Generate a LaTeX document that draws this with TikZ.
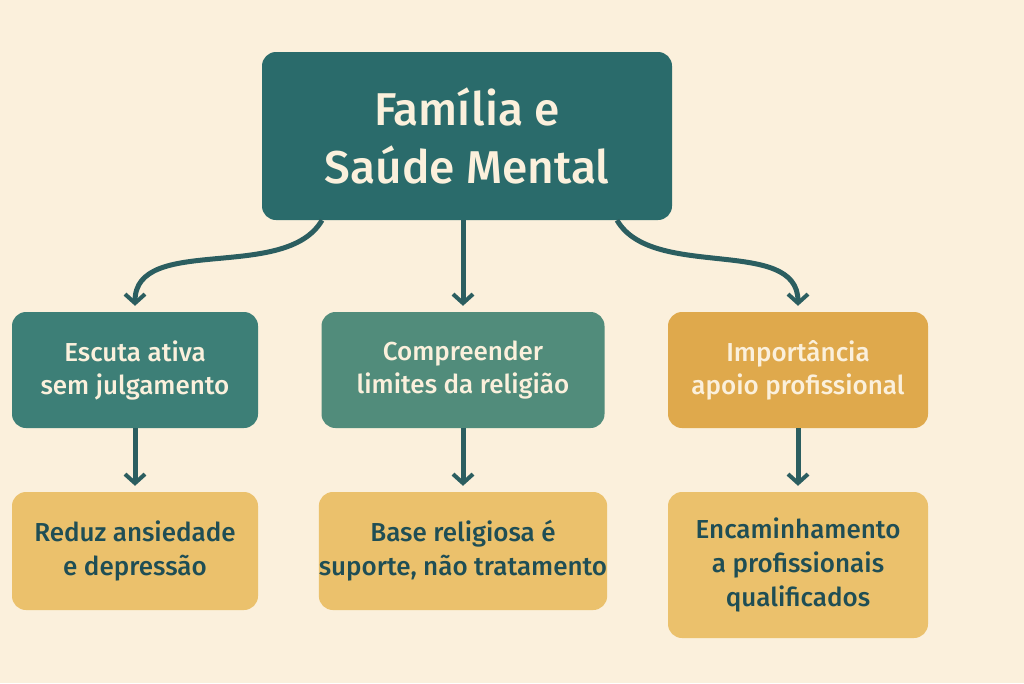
\documentclass[tikz,border=0pt]{standalone}
\usepackage{fontspec}
\setmainfont{Fira Sans}[UprightFont=* Medium, BoldFont=* SemiBold]
\usetikzlibrary{arrows.meta}
\definecolor{bg}{HTML}{FBF0DC}
\definecolor{dteal}{HTML}{2A6B6B}
\definecolor{teal2}{HTML}{3D7F77}
\definecolor{teal3}{HTML}{518C7B}
\definecolor{orng}{HTML}{DFA94C}
\definecolor{yel}{HTML}{EBC16C}
\definecolor{ink}{HTML}{1F4E55}
\definecolor{arr}{HTML}{2B5E60}
\tikzset{
 box/.style={rounded corners=14pt, align=center, inner sep=0pt},
 lvtwo/.style={box, text=bg, font=\fontsize{26}{33}\selectfont},
 lvthree/.style={box, fill=yel, text=ink, font=\fontsize{26}{34}\selectfont},
 conn/.style={draw=arr, line width=5pt, -{Straight Barb[length=9pt,width=20pt,line width=4pt]}}
}
\begin{document}
\begin{tikzpicture}[x=1pt,y=-1pt]
\fill[bg] (0,0) rectangle (1024,683);
\useasboundingbox (0,0) rectangle (1024,683);
\node[box, fill=dteal, text=bg, font=\fontsize{46}{58}\selectfont, minimum width=410pt, minimum height=168pt] (top) at (467,136) {Família e\\Saúde Mental};
\node[lvtwo, fill=teal2, minimum width=246pt, minimum height=116pt] (a) at (135,370) {Escuta ativa\\sem julgamento};
\node[lvtwo, fill=teal3, minimum width=283pt, minimum height=116pt] (b) at (463,370) {Compreender\\limites da religião};
\node[lvtwo, fill=orng, minimum width=260pt, minimum height=116pt] (c) at (798,370) {Importância\\apoio profissional};
\node[lvthree, minimum width=246pt, minimum height=118pt] (d) at (135,551) {Reduz ansiedade\\e depressão};
\node[lvthree, minimum width=283pt, minimum height=118pt] (e) at (463,551) {Base religiosa é\\suporte, não tratamento};
\node[lvthree, minimum width=260pt, minimum height=146pt] (f) at (798,565) {Encaminhamento\\a profissionais\\qualificados};
\draw[conn] ([xshift=-145pt]top.south) to[out=-120,in=90,looseness=0.9] ([yshift=6pt]a.north);
\draw[conn] ([xshift=-4pt]top.south) -- ([yshift=6pt]b.north);
\draw[conn] ([xshift=150pt]top.south) to[out=-60,in=90,looseness=0.9] ([yshift=6pt]c.north);
\draw[conn] (a.south) -- ([yshift=6pt]d.north);
\draw[conn] (b.south) -- ([yshift=6pt]e.north);
\draw[conn] (c.south) -- ([yshift=6pt]f.north);
\end{tikzpicture}
\end{document}
